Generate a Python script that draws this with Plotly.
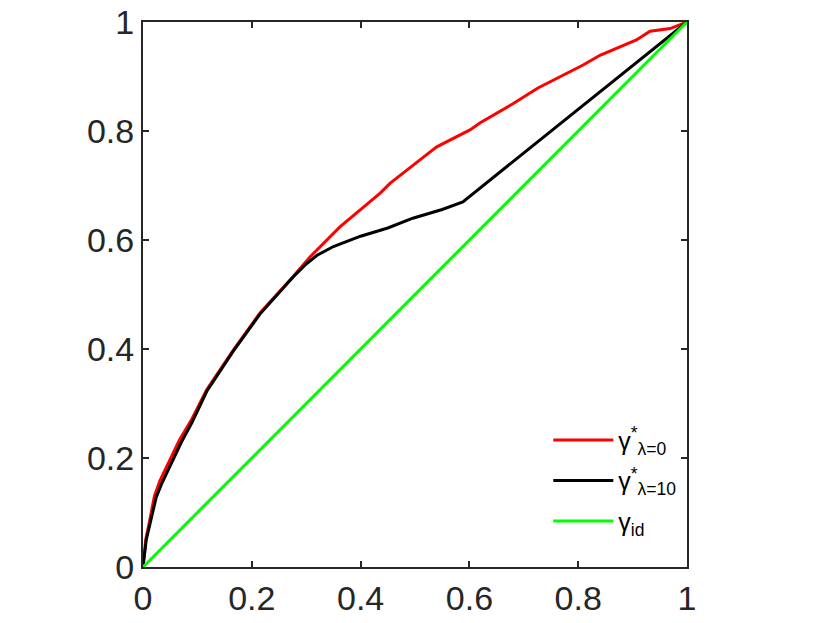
import plotly.graph_objects as go

# data
red_x = [0, 0.005, 0.012, 0.021, 0.031, 0.049, 0.067, 0.089, 0.117, 0.166, 0.215, 0.276, 0.307, 0.362, 0.40, 0.436, 0.454, 0.515, 0.522, 0.540, 0.601, 0.62, 0.68, 0.726, 0.767, 0.809, 0.840, 0.907, 0.932, 0.969, 1.0]
red_y = [0, 0.05, 0.084, 0.13, 0.158, 0.196, 0.233, 0.27, 0.325, 0.398, 0.466, 0.533, 0.569, 0.624, 0.655, 0.686, 0.704, 0.750, 0.757, 0.771, 0.802, 0.815, 0.85, 0.879, 0.900, 0.921, 0.939, 0.967, 0.983, 0.988, 1.0]

black_x = [0, 0.006, 0.014, 0.024, 0.034, 0.052, 0.07, 0.09, 0.117, 0.166, 0.215, 0.276, 0.30, 0.32, 0.35, 0.40, 0.45, 0.496, 0.55, 0.588, 1.0]
black_y = [0, 0.05, 0.084, 0.127, 0.152, 0.19, 0.228, 0.265, 0.322, 0.396, 0.464, 0.532, 0.556, 0.572, 0.588, 0.607, 0.622, 0.640, 0.656, 0.670, 1.0]

id_x = [0, 1]
id_y = [0, 1]

names = ["γ<sup>*</sup><sub>λ=0</sub>", "γ<sup>*</sup><sub>λ=10</sub>", "γ<sub>id</sub>"]

fig = go.Figure()
fig.add_trace(go.Scatter(x=red_x, y=red_y, mode="lines", name=names[0], legendgroup="a",
                         line=dict(color="#ff0000", width=3)))
fig.add_trace(go.Scatter(x=black_x, y=black_y, mode="lines", name=names[1], legendgroup="b",
                         line=dict(color="#000000", width=3)))
fig.add_trace(go.Scatter(x=id_x, y=id_y, mode="lines", name=names[2], legendgroup="c",
                         line=dict(color="#00ff00", width=3)))

tickfont = dict(family="Liberation Sans", size=34, color="#262626")

axis_common = dict(range=[0, 1], dtick=0.2, tick0=0, ticks="inside", ticklen=6,
                   tickwidth=2, tickcolor="#262626", showline=True, linewidth=2,
                   linecolor="#262626", mirror="ticks", showgrid=False, zeroline=False,
                   tickfont=tickfont, ticklabeloverflow="allow")

fig.update_layout(
    width=830, height=623,
    margin=dict(l=135, r=151, t=14, b=64, autoexpand=False),
    paper_bgcolor="white", plot_bgcolor="white",
    xaxis=dict(axis_common), yaxis=dict(axis_common),
    showlegend=True,
    legend=dict(x=0.745, y=0.275, xanchor="left", yanchor="top",
                bgcolor="rgba(0,0,0,0)", itemwidth=60,
                font=dict(family="Liberation Sans", size=25, color="#000000"),
                tracegroupgap=5),
)

fig.write_html("out.html")
